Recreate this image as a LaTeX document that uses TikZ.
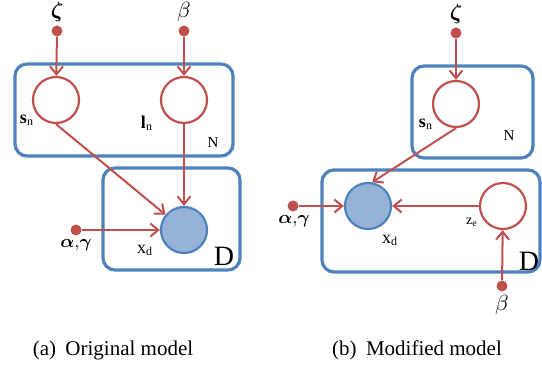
\documentclass[tikz,border=0pt]{standalone}
\usepackage{amsmath}
\usepackage{fontspec}
\setmainfont{Liberation Serif}
\usetikzlibrary{arrows.meta}
\definecolor{pred}{HTML}{C0504D}
\definecolor{pblue}{HTML}{4F81BD}
\definecolor{pfill}{HTML}{95B3D7}

\begin{document}
\begin{tikzpicture}[x=0.5pt,y=-0.5pt,
  plate/.style={draw=pblue, line width=1.6pt, rounded corners=6pt},
  latent/.style={circle, draw=pred, line width=1.1pt, fill=white,
                 minimum size=23pt, inner sep=0pt},
  obs/.style={circle, draw=pblue, line width=1.1pt, fill=pfill,
              minimum size=23pt, inner sep=0pt},
  hyp/.style={circle, fill=pred, minimum size=5.5pt, inner sep=0pt},
  lab/.style={font=\fontsize{9}{10}\selectfont, inner sep=0pt},
  arr/.style={-{Straight Barb[length=4pt,width=6.5pt]}, draw=pred, line width=1pt}
]
  \useasboundingbox (0,0) rectangle (542,368);

  % (a) original model
  \draw[plate] (15,64) rectangle (233,156);
  \draw[plate] (103,168) rectangle (240,270);
  \node[hyp]    (zetaA)  at (57,31)   {};
  \node[hyp]    (betaA)  at (184,31)  {};
  \node[hyp]    (alphaA) at (76,230)  {};
  \node[latent] (sA)     at (56,100)  {};
  \node[latent] (lA)     at (184,100) {};
  \node[obs]    (xA)     at (184,230) {};
  \node[lab, font=\fontsize{10.5}{10}\selectfont] (zetaAl)  at (57,12)   {$\boldsymbol{\zeta}$};
  \node[lab, font=\fontsize{10.5}{10}\selectfont] (betaAl)  at (184,12)  {$\beta$};
  \node[lab] (sAl)     at (27,120)  {\textbf{s}$_{\text{n}}$};
  \node[lab] (lAl)     at (147,123) {\textbf{l}$_{\text{n}}$};
  \node[lab, font=\fontsize{7.5}{8}\selectfont] (nAl) at (213,143) {N};
  \node[lab] (xAl)     at (145,250) {x$_{\text{d}}$};
  \node[lab, font=\fontsize{14}{14}\selectfont] (dAl) at (224,256) {D};
  \node[lab] (alphaAl) at (76,245)  {$\boldsymbol{\alpha}{,}\boldsymbol{\gamma}$};
  \draw[arr] (zetaA)  -- (sA);
  \draw[arr] (betaA)  -- (lA);
  \draw[arr] (sA.south) -- (xA);
  \draw[arr] (lA)     -- (xA);
  \draw[arr] (alphaA) -- (xA);

  % (b) modified model
  \draw[plate] (412,66) rectangle (533,158);
  \draw[plate] (322,170) rectangle (540,272);
  \node[hyp]    (zetaB)  at (456,33)  {};
  \node[hyp]    (alphaB) at (293,206) {};
  \node[hyp]    (betaB)  at (502,286) {};
  \node[latent] (sB)     at (456,104) {};
  \node[obs]    (xB)     at (368,206) {};
  \node[latent] (zB)     at (503,206) {};
  \node[lab, font=\fontsize{10.5}{10}\selectfont] (zetaBl) at (456,14) {$\boldsymbol{\zeta}$};
  \node[lab, font=\fontsize{10.5}{10}\selectfont] (betaBl) at (502,305) {$\beta$};
  \node[lab] (sBl)     at (426,124) {\textbf{s}$_{\text{n}}$};
  \node[lab, font=\fontsize{7.5}{8}\selectfont] (nBl) at (509,136) {N};
  \node[lab] (xBl)     at (390,240) {x$_{\text{d}}$};
  \node[lab, font=\fontsize{7}{8}\selectfont] (zBl) at (472,222) {z$_{\text{e}}$};
  \node[lab, font=\fontsize{14}{14}\selectfont] (dBl) at (529,261) {D};
  \node[lab] (alphaBl) at (294,221) {$\boldsymbol{\alpha}{,}\boldsymbol{\gamma}$};
  \draw[arr] (zetaB)    -- (sB);
  \draw[arr] (sB.south) -- (xB.80);
  \draw[arr] (alphaB)   -- (xB);
  \draw[arr] (zB)       -- (xB);
  \draw[arr] (betaB)    -- (zB);

  % captions
  \node[font=\fontsize{10.5}{12}\selectfont] (capA) at (113,350) {(a)\hspace{0.45em}Original model};
  \node[font=\fontsize{10.5}{12}\selectfont] (capB) at (417,350) {(b)\hspace{0.45em}Modified model};
\end{tikzpicture}
\end{document}
